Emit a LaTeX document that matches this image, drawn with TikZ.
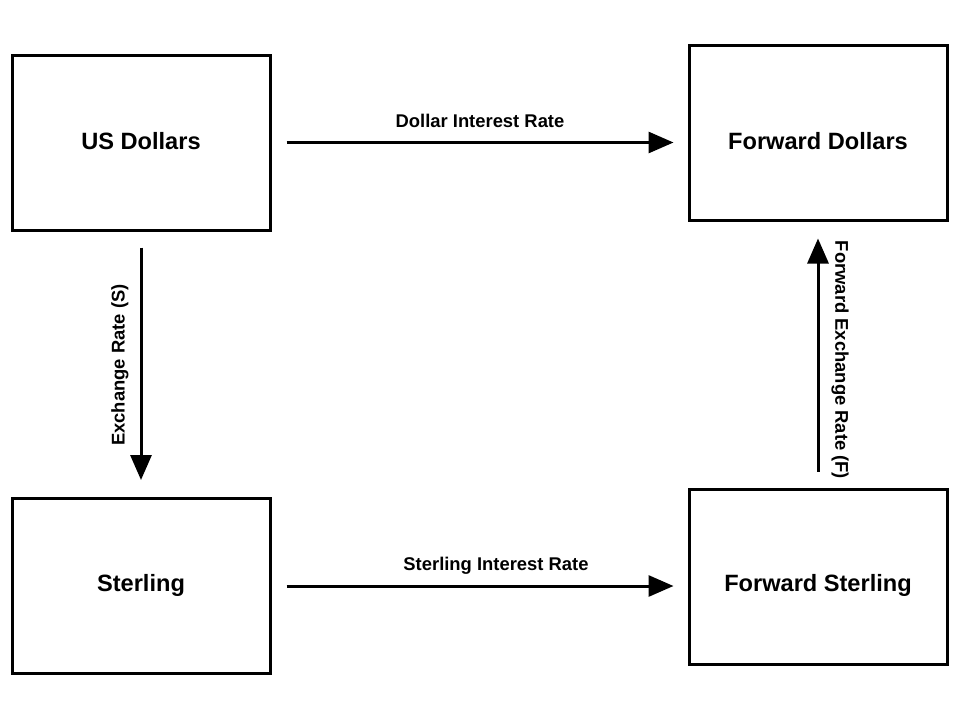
\documentclass[tikz,border=0pt]{standalone}
\usepackage{fontspec}
\setmainfont{Liberation Sans}
\usetikzlibrary{arrows.meta}
\begin{document}
\begin{tikzpicture}[x=1pt,y=-1pt,
  box/.style={draw, line width=3pt, minimum width=258pt, minimum height=175pt, inner sep=0pt,
    font=\fontsize{23.6}{28}\selectfont\bfseries},
  boxtext/.style={inner sep=0pt, font=\fontsize{23.6}{28}\selectfont\bfseries},
  arr/.style={line width=3pt, -{Triangle[length=25pt,width=21pt]}, shorten <=15pt, shorten >=14pt},
  lbl/.style={font=\fontsize{18.4}{22}\selectfont\bfseries, inner sep=0pt}]
\useasboundingbox (0,0) rectangle (960,720);
\node[box] (usd) at (141,142.5) {};
\node[boxtext] (usdt) at (141,141) {US Dollars};
\node[box] (fd) at (818,132.5) {};
\node[boxtext] (fdt) at (818,141) {Forward Dollars};
\node[box] (st) at (141,586) {};
\node[boxtext] (stt) at (141,585) {Sterling};
\node[box] (fs) at (818,576.5) {};
\node[boxtext] (fst) at (818,585) {Forward Sterling};
\draw[arr] (usd.east) -- (usd.east -| fd.west);
\draw[arr] (st.east) -- (st.east -| fs.west);
\draw[arr, shorten <=16pt, shorten >=17pt] (usd.south) -- (usd.south |- st.north);
\draw[arr, shorten <=16pt, shorten >=17pt] (fs.north) -- (fs.north |- fd.south);
\node[lbl] (l1) at (480,121) {Dollar Interest Rate};
\node[lbl] (l2) at (496,565.5) {Sterling Interest Rate};
\node[lbl, rotate=90] (l3) at (120,365) {Exchange Rate (S)};
\node[lbl, rotate=-90] (l4) at (840,360) {Forward Exchange Rate (F)};
\end{tikzpicture}
\end{document}
